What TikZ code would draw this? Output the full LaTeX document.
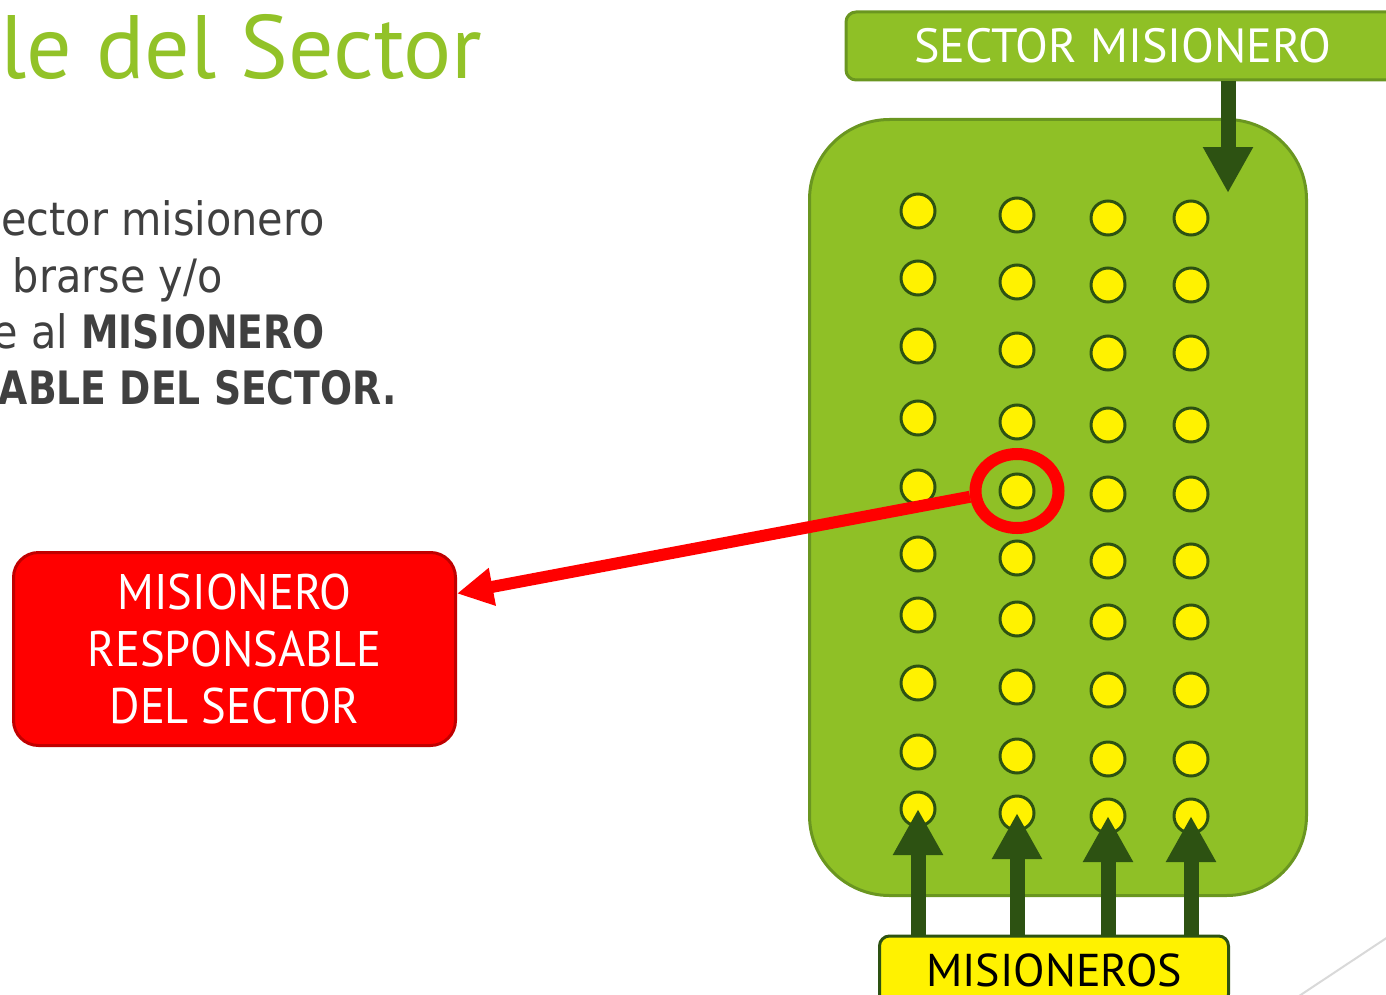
\documentclass[tikz,border=0pt]{standalone}
\usepackage{fontspec}
\usepackage{xcolor}
\usetikzlibrary{arrows.meta,shapes.geometric}

\newfontfamily\slidefont{PT Sans}
\newfontfamily\narrowfont[FakeStretch=0.93]{PT Sans}
\newfontfamily\bodyfont[FakeStretch=0.9,BoldFeatures={FakeStretch=0.82}]{DejaVu Sans}

\definecolor{titlegreen}{RGB}{146,194,40}
\definecolor{boxgreen}{RGB}{143,192,38}
\definecolor{boxborder}{RGB}{106,150,32}
\definecolor{darkgreen}{RGB}{45,82,18}
\definecolor{bodygray}{RGB}{64,64,64}
\definecolor{redborder}{RGB}{192,0,0}
\definecolor{slideline}{RGB}{217,217,217}

\begin{document}
\begin{tikzpicture}[
            x = 0.5pt, y = -0.5pt, % one unit = one pixel of the slide
            bodytext/.style = {anchor=base east, inner sep=0pt, text=bodygray,
                font=\bodyfont\fontsize{23}{28}\selectfont},
            labelbox/.style = {shape=rectangle, rounded corners=5pt, line width=1.5pt,
                inner sep=0pt, font=\slidefont\fontsize{24}{28}\selectfont},
            member/.style = {shape=circle, draw=darkgreen, fill=yellow, line width=1.5pt,
                minimum size=17pt, inner sep=0pt},
            ring/.style = {shape=ellipse, draw=red, line width=6pt, minimum width=41.5pt,
                minimum height=37pt, inner sep=0pt},
            bigarrow/.style = {color=darkgreen, line width=7.5pt,
                -{Triangle[length=23pt,width=23.5pt]}},
            redarrow/.style = {color=red, line width=6pt,
                -{Triangle[length=18pt,width=18pt]}}
        ]
\path[use as bounding box, clip] (0,0) rectangle (1386,995);

% left part of the slide
\node[anchor=base west, inner sep=0pt, text=titlegreen,
      font=\slidefont\fontsize{45}{48}\selectfont] (title) at (0,79) {le del Sector};
\node[bodytext] (line1) at (325,235) {ector misionero};
\node[bodytext] (line2) at (223,292) {brarse y/o};
\node[bodytext] (line3) at (325,348) {e al \textbf{MISIONERO}};
\node[bodytext] (line4) at (397,404) {\textbf{ABLE DEL SECTOR.}};

\node[labelbox, draw=redborder, fill=red, text=white, align=center,
      minimum width=221pt, minimum height=96.5pt, rounded corners=12.5pt,
      font=\narrowfont\fontsize{25}{28.5}\selectfont] (redbox) at (234.5,649)
      {MISIONERO\\RESPONSABLE\\DEL SECTOR};

% the sector
\node[shape=rectangle, draw=boxborder, fill=boxgreen, line width=1.5pt,
      minimum width=248.5pt, minimum height=388pt, rounded corners=40pt] (sector) at (1058,507.5) {};
\node[labelbox, draw=boxborder, fill=boxgreen, text=white,
      minimum width=277pt, minimum height=34pt] (sectorlabel) at (1123,46) {SECTOR MISIONERO};
\node[labelbox, draw=darkgreen, fill=yellow, text=black,
      minimum width=174.5pt, minimum height=34pt,
      font=\slidefont\fontsize{23}{28}\selectfont] (misioneros) at (1054,970) {MISIONEROS};

\foreach \col/\cx/\dy in {1/918/0, 2/1017/4, 3/1108/7, 4/1191/7}
  \foreach \row/\ry in {1/211, 2/278, 3/346, 4/418, 5/487, 6/554, 7/615, 8/683, 9/752, 10/809}
    \node[member] (m-\col-\row) at (\cx,\ry+\dy) {};

\coordinate (sectortip) at (1228,193);
\path [bigarrow] (sectorlabel.south -| sectortip) edge (sectortip);
\foreach \col in {1,...,4}
  \path [bigarrow] (misioneros.north -| m-\col-10) edge (m-\col-10.center);

\node[ring] (resp) at (m-2-5) {};
\path [redarrow] (resp.187) edge (redbox.14);

\draw[slideline, line width=1pt] (1290,1002) -- (1400,929);
\end{tikzpicture}
\end{document}
